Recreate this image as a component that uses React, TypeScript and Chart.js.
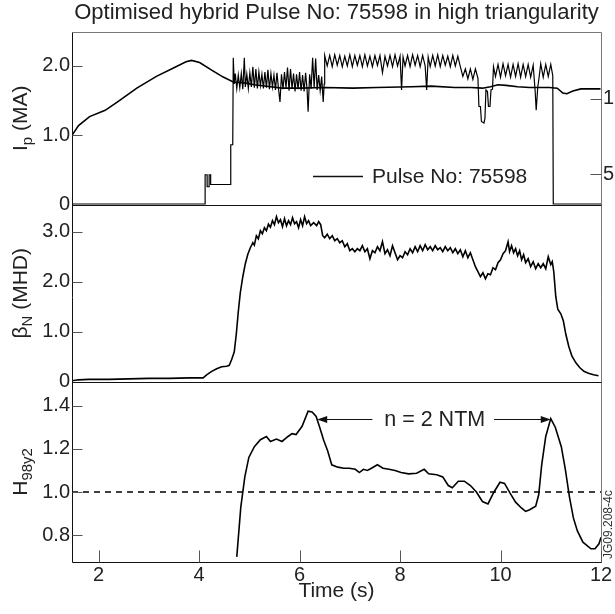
import { useEffect, useRef } from 'react';
import { Chart, registerables } from 'chart.js';

Chart.register(...registerables);

const FONT = '"Liberation Sans", Arial, Helvetica, sans-serif';

const TITLE = 'Optimised hybrid Pulse No: 75598 in high triangularity';
const LEGEND_LABEL = 'Pulse No: 75598';
const X_TITLE = 'Time (s)';
const NTM_LABEL = 'n = 2 NTM';
const FIG_CODE = 'JG09.208-4c';

const X_MIN = 1.47;
const X_MAX = 12.0;
const X_TICKS = [2, 4, 6, 8, 10, 12];
const IP_TICKS = [0, 1, 2];
const BETA_TICKS = [0, 1, 2, 3];
const H_TICKS = [0.8, 1.0, 1.2, 1.4];
const POWER_TICKS = [5, 15];
const H_REFERENCE = 1.0;

// NTM annotation (time, H value)
const NTM_LEVEL = 1.34;
const NTM_LEFT_ARROW = [7.45, 6.35];
const NTM_RIGHT_ARROW = [9.87, 11.0];
const NTM_TEXT_TIME = 8.69;

// Plasma current (MA)
const IP_TIME = [1.47, 1.6, 1.82, 2.13, 2.37, 2.76, 3.15, 3.54, 3.74, 3.85, 4.01, 4.25, 4.48, 4.68, 4.87, 5.1, 5.42, 5.65, 6.0, 6.51, 7.06, 7.53, 8.23, 8.62, 9.09, 9.41, 9.64, 9.8, 9.95, 10.11, 10.34, 10.58, 10.97, 11.13, 11.24, 11.32, 11.44, 11.6, 11.99];
const IP_MA = [1.0, 1.14, 1.27, 1.36, 1.48, 1.68, 1.85, 1.99, 2.06, 2.08, 2.05, 1.94, 1.84, 1.77, 1.76, 1.73, 1.70, 1.68, 1.68, 1.69, 1.68, 1.69, 1.70, 1.71, 1.69, 1.69, 1.68, 1.70, 1.73, 1.72, 1.70, 1.69, 1.69, 1.68, 1.61, 1.60, 1.64, 1.67, 1.67];

// Heating power (MW, right axis)
const POWER_TIME = [
  1.47, 4.12, 4.12, 4.16, 4.16, 4.20, 4.20, 4.23, 4.23, 4.63, 4.63, 4.67, 4.68, 4.70, 4.72, 4.75, 4.78, 4.81, 4.84, 4.87,
  4.90, 4.92, 4.95, 4.98, 5.01, 5.04, 5.07, 5.10, 5.13, 5.16, 5.19, 5.22, 5.25, 5.28, 5.31, 5.34, 5.37, 5.40, 5.43, 5.46,
  5.49, 5.52, 5.55, 5.58, 5.61, 5.64, 5.67, 5.70, 5.73, 5.76, 5.79, 5.82, 5.85, 5.88, 5.91, 5.94, 5.97, 6.00, 6.03, 6.06,
  6.09, 6.12, 6.15, 6.17, 6.20, 6.23, 6.26, 6.29, 6.32, 6.35, 6.38, 6.41, 6.44, 6.47, 6.49, 6.50,
  6.55, 6.60, 6.65, 6.70, 6.75, 6.80, 6.85, 6.90, 6.95, 7.00, 7.05, 7.10, 7.15, 7.20, 7.25, 7.30, 7.35, 7.40, 7.45, 7.50,
  7.55, 7.60, 7.65, 7.70, 7.75, 7.80, 7.85, 7.90, 7.95, 8.00, 8.03, 8.06, 8.10, 8.15, 8.20, 8.25, 8.30, 8.35, 8.40, 8.45,
  8.50, 8.53, 8.56, 8.60, 8.65, 8.70, 8.75, 8.80, 8.85, 8.90, 8.95, 9.00, 9.05, 9.10, 9.15, 9.20, 9.25,
  9.30, 9.35, 9.40, 9.45, 9.50, 9.55,
  9.57, 9.60, 9.62, 9.67, 9.69, 9.71, 9.74, 9.76, 9.79, 9.81, 9.84, 9.86,
  9.90, 9.95, 10.00, 10.05, 10.10, 10.15, 10.20, 10.25, 10.30, 10.35, 10.40, 10.45, 10.50, 10.55, 10.60, 10.65, 10.69, 10.71, 10.74, 10.77,
  10.80, 10.85, 10.90, 10.95, 11.00, 11.04, 11.05, 12.0,
];
const POWER_MW = [
  1.0, 1.0, 4.9, 4.9, 3.3, 3.3, 4.9, 4.9, 3.6, 3.6, 8.9, 8.9, 20.5, 17.0, 18.4, 16.4, 18.2, 16.5, 18.4, 16.3,
  20.5, 16.6, 18.3, 16.4, 18.5, 16.6, 19.3, 16.5, 19.0, 16.4, 18.6, 16.8, 18.3, 16.4, 18.6, 16.5, 18.9, 16.3, 18.4, 16.6,
  18.2, 16.2, 18.5, 16.4, 14.6, 18.3, 16.3, 18.6, 16.5, 19.2, 16.1, 19.0, 16.4, 18.4, 16.0, 18.3, 16.3, 18.6, 16.1, 18.2,
  16.0, 18.5, 16.2, 13.3, 18.3, 16.4, 20.5, 16.5, 20.4, 16.2, 18.2, 16.1, 18.0, 14.6, 17.0, 20.8,
  19.4, 20.8, 19.3, 20.9, 19.5, 20.8, 19.3, 20.7, 19.4, 20.9, 19.3, 20.8, 19.5, 20.8, 19.3, 20.9, 19.4, 20.7, 19.3, 20.8,
  19.5, 20.8, 18.5, 20.7, 19.4, 20.8, 19.3, 20.9, 19.4, 20.7, 16.2, 20.6, 19.4, 20.8, 19.3, 20.9, 19.5, 20.8, 19.3, 20.8,
  19.4, 16.2, 20.6, 19.3, 20.8, 19.4, 20.9, 19.3, 20.8, 19.5, 20.7, 19.3, 20.8, 19.4, 20.7, 19.3, 18.0,
  19.0, 17.7, 19.0, 17.6, 19.0, 17.8,
  14.0, 14.0, 12.0, 11.8, 12.4, 16.2, 16.0, 14.0, 14.0, 16.2, 16.3, 19.3,
  18.0, 19.6, 17.9, 19.7, 18.1, 19.6, 17.9, 19.6, 18.0, 19.7, 17.9, 19.6, 18.0, 19.6, 17.9, 19.5, 16.0, 13.5, 16.5, 18.0,
  19.7, 17.9, 19.6, 18.0, 19.6, 18.1, 1.0, 1.0,
];

// Normalised beta
const BETA_TIME = [
  1.47, 1.6, 1.8, 2.2, 2.6, 3.0, 3.4, 3.8, 4.08, 4.15, 4.25, 4.35, 4.45, 4.55, 4.60, 4.65, 4.70, 4.74, 4.78, 4.82,
  4.87, 4.92, 4.97, 5.02, 5.07, 5.10, 5.14, 5.18, 5.22, 5.26, 5.30, 5.34, 5.38, 5.42, 5.46, 5.50, 5.54, 5.58, 5.62, 5.66,
  5.70, 5.74, 5.78, 5.82, 5.86, 5.90, 5.94, 5.98, 6.02, 6.06, 6.10, 6.14, 6.18, 6.22, 6.28, 6.34, 6.38, 6.42, 6.46, 6.50,
  6.55, 6.60, 6.65, 6.70, 6.75, 6.80, 6.85, 6.90, 6.95, 7.00, 7.05, 7.10, 7.15, 7.20, 7.25, 7.30, 7.35, 7.40, 7.45, 7.50,
  7.55, 7.60, 7.65, 7.70, 7.75, 7.80, 7.85, 7.90, 7.95, 8.00, 8.05, 8.10, 8.15, 8.20, 8.25, 8.30, 8.35, 8.40, 8.45, 8.50,
  8.55, 8.60, 8.65, 8.70, 8.75, 8.80, 8.85, 8.90, 8.95, 9.00, 9.05, 9.10, 9.15, 9.20, 9.25, 9.30, 9.35, 9.40, 9.45, 9.50,
  9.55, 9.60, 9.65, 9.70, 9.75, 9.80, 9.85, 9.90, 9.95, 10.00, 10.05, 10.10, 10.15, 10.18, 10.22, 10.26, 10.30, 10.34, 10.38, 10.42,
  10.46, 10.50, 10.55, 10.60, 10.65, 10.70, 10.75, 10.80, 10.85, 10.90, 10.95, 11.00, 11.03, 11.06, 11.10, 11.14, 11.20, 11.25, 11.30, 11.36,
  11.42, 11.50, 11.58, 11.66, 11.75, 11.85, 11.95,
];
const BETA_N = [
  0.02, 0.04, 0.05, 0.05, 0.06, 0.07, 0.07, 0.08, 0.08, 0.14, 0.21, 0.26, 0.30, 0.31, 0.33, 0.45, 0.60, 0.95, 1.40, 1.78,
  2.10, 2.36, 2.55, 2.68, 2.78, 2.73, 2.92, 2.86, 3.02, 2.96, 3.08, 3.02, 3.15, 3.09, 3.22, 3.14, 3.30, 3.18, 3.24, 3.10,
  3.26, 3.12, 3.22, 3.14, 3.28, 3.16, 3.20, 3.08, 3.24, 3.12, 3.30, 3.16, 3.22, 3.12, 3.18, 3.12, 3.20, 3.14, 2.92, 2.88,
  2.95, 2.86, 2.92, 2.82, 2.86, 2.78, 2.82, 2.70, 2.76, 2.62, 2.66, 2.60, 2.66, 2.62, 2.72, 2.60, 2.66, 2.46, 2.62, 2.58,
  2.70, 2.62, 2.80, 2.56, 2.64, 2.52, 2.72, 2.58, 2.44, 2.52, 2.48, 2.60, 2.54, 2.66, 2.58, 2.70, 2.60, 2.72, 2.62, 2.74,
  2.64, 2.70, 2.62, 2.72, 2.64, 2.68, 2.60, 2.70, 2.62, 2.68, 2.58, 2.66, 2.56, 2.64, 2.50, 2.62, 2.48, 2.58, 2.44, 2.30,
  2.20, 2.10, 2.18, 2.06, 2.16, 2.14, 2.28, 2.24, 2.38, 2.44, 2.56, 2.62, 2.80, 2.60, 2.72, 2.58, 2.66, 2.52, 2.62, 2.44,
  2.54, 2.38, 2.46, 2.30, 2.40, 2.26, 2.36, 2.28, 2.36, 2.26, 2.50, 2.34, 2.40, 2.20, 1.70, 1.45, 1.36, 1.22, 0.95, 0.70,
  0.52, 0.38, 0.28, 0.21, 0.17, 0.14, 0.12,
];

// Confinement factor H98(y,2)
const H_TIME = [
  4.75, 4.83, 4.91, 4.99, 5.10, 5.22, 5.34, 5.42, 5.54, 5.65, 5.77, 5.85, 5.93, 6.05, 6.17, 6.25, 6.33, 6.40, 6.48, 6.56,
  6.64, 6.76, 6.88, 6.99, 7.11, 7.19, 7.27, 7.35, 7.43, 7.55, 7.66, 7.78, 7.90, 8.02, 8.17, 8.33, 8.48, 8.57, 8.73, 8.85,
  8.96, 9.04, 9.16, 9.28, 9.40, 9.52, 9.64, 9.75, 9.87, 9.99, 10.08, 10.19, 10.30, 10.42, 10.50, 10.58, 10.70, 10.76, 10.82, 10.90,
  11.00, 11.09, 11.21, 11.29, 11.37, 11.45, 11.53, 11.64, 11.80, 11.88, 11.96, 12.0,
];
const H98 = [
  0.70, 0.93, 1.07, 1.16, 1.21, 1.242, 1.257, 1.234, 1.245, 1.234, 1.257, 1.27, 1.266, 1.304, 1.374, 1.37, 1.35, 1.30, 1.24, 1.19,
  1.126, 1.115, 1.11, 1.11, 1.105, 1.09, 1.105, 1.10, 1.11, 1.126, 1.11, 1.105, 1.10, 1.09, 1.084, 1.087, 1.105, 1.084, 1.08, 1.07,
  1.03, 1.02, 1.05, 1.05, 1.03, 1.00, 0.956, 0.945, 1.00, 1.045, 1.04, 0.995, 0.953, 0.925, 0.91, 0.918, 0.934, 0.987, 1.127, 1.257,
  1.34, 1.30, 1.21, 1.105, 0.98, 0.88, 0.82, 0.768, 0.737, 0.737, 0.76, 0.79,
];

const toPoints = (ts: number[], vs: number[]) => ts.map((t, i) => ({ x: t, y: vs[i] }));

function drawArrow(ctx: CanvasRenderingContext2D, x1: number, x2: number, y: number) {
  const dir = Math.sign(x2 - x1);
  ctx.beginPath();
  ctx.moveTo(x1, y);
  ctx.lineTo(x2 - dir * 8, y);
  ctx.stroke();
  ctx.beginPath();
  ctx.moveTo(x2, y);
  ctx.lineTo(x2 - dir * 10, y - 3.5);
  ctx.lineTo(x2 - dir * 10, y + 3.5);
  ctx.closePath();
  ctx.fill();
}

function drawRotatedLabel(ctx: CanvasRenderingContext2D, x: number, cy: number, parts: { t: string; sub?: boolean }[]) {
  const big = `21px ${FONT}`;
  const small = `15px ${FONT}`;
  let total = 0;
  for (const p of parts) {
    ctx.font = p.sub ? small : big;
    total += ctx.measureText(p.t).width;
  }
  ctx.save();
  ctx.translate(x, cy);
  ctx.rotate(-Math.PI / 2);
  ctx.textAlign = 'left';
  ctx.textBaseline = 'alphabetic';
  let pos = -total / 2;
  for (const p of parts) {
    ctx.font = p.sub ? small : big;
    ctx.fillText(p.t, pos, p.sub ? 5 : 0);
    pos += ctx.measureText(p.t).width;
  }
  ctx.restore();
}

const decorPlugin = {
  id: 'decor',
  afterDatasetsDraw(chart: any) {
    const ctx: CanvasRenderingContext2D = chart.ctx;
    const a = chart.chartArea;
    const sx = chart.scales.x;
    const sIp = chart.scales.yIp;
    const sB = chart.scales.yBeta;
    const sH = chart.scales.yH;
    const sP = chart.scales.yPow;
    const L = Math.round(a.left) + 0.5;
    const R = Math.round(a.right) + 0.5;
    const T = Math.round(a.top) + 0.5;
    const B = Math.round(a.bottom) + 0.5;
    ctx.save();
    ctx.lineWidth = 1;
    // frame
    ctx.strokeStyle = '#777';
    ctx.beginPath();
    ctx.moveTo(L, T); ctx.lineTo(R, T); ctx.lineTo(R, B);
    ctx.stroke();
    ctx.strokeStyle = '#111';
    ctx.beginPath();
    ctx.moveTo(L, T); ctx.lineTo(L, B); ctx.lineTo(R, B);
    const s1 = Math.round(sIp.bottom) + 0.5;
    const s2 = Math.round(sB.bottom) + 0.5;
    ctx.moveTo(L, s1); ctx.lineTo(R, s1);
    ctx.moveTo(L, s2); ctx.lineTo(R, s2);
    ctx.stroke();

    // inner ticks
    ctx.strokeStyle = '#555';
    ctx.beginPath();
    const leftTicks: [any, number[]][] = [[sIp, IP_TICKS], [sB, BETA_TICKS], [sH, H_TICKS]];
    for (const [s, vals] of leftTicks) {
      for (const v of vals) {
        const y = Math.round(s.getPixelForValue(v)) + 0.5;
        if (y <= s.top + 1 || y >= s.bottom - 1) continue;
        ctx.moveTo(L, y); ctx.lineTo(L + 10, y);
      }
    }
    for (const v of X_TICKS) {
      const x = Math.round(sx.getPixelForValue(v)) + 0.5;
      ctx.moveTo(x, B); ctx.lineTo(x, B - 12);
    }
    for (const v of POWER_TICKS) {
      const y = Math.round(sP.getPixelForValue(v)) + 0.5;
      ctx.moveTo(R - 11, y); ctx.lineTo(R, y);
    }
    ctx.stroke();

    ctx.fillStyle = '#222';
    ctx.strokeStyle = '#111';
    // title
    ctx.font = `22px ${FONT}`;
    ctx.textAlign = 'center';
    ctx.textBaseline = 'middle';
    ctx.fillText(TITLE, (a.left + a.right) / 2, 13);
    // x title
    ctx.font = `21px ${FONT}`;
    ctx.fillText(X_TITLE, (a.left + a.right) / 2, 591);

    // axis titles
    drawRotatedLabel(ctx, 27, (sIp.top + sIp.bottom) / 2, [{ t: 'I' }, { t: 'p', sub: true }, { t: ' (MA)' }]);
    drawRotatedLabel(ctx, 27, (sB.top + sB.bottom) / 2, [{ t: 'β' }, { t: 'N', sub: true }, { t: ' (MHD)' }]);
    drawRotatedLabel(ctx, 27, (sH.top + sH.bottom) / 2, [{ t: 'H' }, { t: '98y2', sub: true }]);

    // legend
    const ly = 176.5;
    ctx.lineWidth = 1.5;
    ctx.beginPath();
    ctx.moveTo(313, ly); ctx.lineTo(363, ly);
    ctx.stroke();
    ctx.font = `21px ${FONT}`;
    ctx.textAlign = 'left';
    ctx.fillText(LEGEND_LABEL, 372, ly + 1);

    // NTM annotation
    const ny = Math.round(sH.getPixelForValue(NTM_LEVEL)) + 0.5;
    ctx.lineWidth = 1;
    ctx.fillStyle = '#111';
    drawArrow(ctx, sx.getPixelForValue(NTM_LEFT_ARROW[0]), sx.getPixelForValue(NTM_LEFT_ARROW[1]), ny);
    drawArrow(ctx, sx.getPixelForValue(NTM_RIGHT_ARROW[0]), sx.getPixelForValue(NTM_RIGHT_ARROW[1]), ny);
    ctx.fillStyle = '#222';
    ctx.textAlign = 'center';
    ctx.font = `21.5px ${FONT}`;
    ctx.fillText(NTM_LABEL, sx.getPixelForValue(NTM_TEXT_TIME), ny + 1);

    // figure code
    ctx.save();
    ctx.translate(612, 559);
    ctx.rotate(-Math.PI / 2);
    ctx.font = `12px ${FONT}`;
    ctx.textAlign = 'left';
    ctx.textBaseline = 'alphabetic';
    ctx.fillStyle = '#333';
    ctx.fillText(FIG_CODE, 0, 0);
    ctx.restore();

    ctx.restore();
  },
};

const tickFont = { family: FONT, size: 20 };
const fmt = (v: number) => (v === 0 ? '0' : v.toFixed(1));
const noGrid = { display: false, drawTicks: false, tickLength: 0 };

export default function App() {
  const ref = useRef<HTMLCanvasElement | null>(null);
  useEffect(() => {
    if (!ref.current) return;
    const line = (data: any[], yAxisID: string, extra: any = {}) => ({
      data,
      yAxisID,
      borderColor: '#000',
      backgroundColor: '#000',
      borderWidth: 1.5,
      pointRadius: 0,
      tension: 0,
      ...extra,
    });
    const chart = new Chart(ref.current, {
      type: 'line',
      data: {
        datasets: [
          line(toPoints(IP_TIME, IP_MA), 'yIp', { borderWidth: 1.6 }),
          line(toPoints(POWER_TIME, POWER_MW), 'yPow', { borderWidth: 1.2 }),
          line(toPoints(BETA_TIME, BETA_N), 'yBeta', { borderWidth: 1.6 }),
          line(toPoints(H_TIME, H98), 'yH', { borderWidth: 1.6 }),
          line([{ x: X_MIN, y: H_REFERENCE }, { x: X_MAX, y: H_REFERENCE }], 'yH', { borderWidth: 1.6, borderDash: [6, 5] }),
        ],
      },
      options: {
        animation: false,
        responsive: false,
        maintainAspectRatio: false,
        layout: { padding: { top: 32, left: 0, right: 0, bottom: 0 } },
        plugins: { legend: { display: false }, title: { display: false }, tooltip: { enabled: false } },
        scales: {
          x: {
            type: 'linear',
            position: 'bottom',
            min: X_MIN,
            max: X_MAX,
            grid: noGrid,
            border: { display: false },
            afterBuildTicks: (s: any) => { s.ticks = X_TICKS.map((v) => ({ value: v })); },
            afterFit: (s: any) => { s.height = 52; },
            ticks: { font: tickFont, color: '#222', padding: 1, maxRotation: 0, autoSkip: false, callback: (v: any) => String(v) },
          },
          yH: {
            type: 'linear',
            position: 'left',
            stack: 'panels',
            stackWeight: 180,
            min: 0.676,
            max: 1.51,
            grid: noGrid,
            border: { display: false },
            afterBuildTicks: (s: any) => { s.ticks = H_TICKS.map((v) => ({ value: v })); },
            afterFit: (s: any) => { s.width = 72; },
            ticks: { font: tickFont, color: '#222', padding: 2, callback: (v: any) => fmt(v) },
          },
          yBeta: {
            type: 'linear',
            position: 'left',
            stack: 'panels',
            stackWeight: 177,
            min: 0,
            max: 3.54,
            grid: noGrid,
            border: { display: false },
            afterBuildTicks: (s: any) => { s.ticks = BETA_TICKS.map((v) => ({ value: v })); },
            afterFit: (s: any) => { s.width = 72; },
            ticks: { font: tickFont, color: '#222', padding: 2, callback: (v: any) => fmt(v) },
          },
          yIp: {
            type: 'linear',
            position: 'left',
            stack: 'panels',
            stackWeight: 172.5,
            min: 0,
            max: 2.49,
            grid: noGrid,
            border: { display: false },
            afterBuildTicks: (s: any) => { s.ticks = IP_TICKS.map((v) => ({ value: v })); },
            afterFit: (s: any) => { s.width = 72; },
            ticks: { font: tickFont, color: '#222', padding: 2, callback: (v: any) => fmt(v) },
          },
          yPow: {
            type: 'linear',
            position: 'right',
            min: -46.73,
            max: 23.93,
            grid: noGrid,
            border: { display: false },
            afterBuildTicks: (s: any) => { s.ticks = POWER_TICKS.map((v) => ({ value: v })); },
            afterFit: (s: any) => { s.width = 39; },
            ticks: { font: tickFont, color: '#222', padding: 2, callback: (v: any) => String(v) },
          },
        },
      },
      plugins: [decorPlugin],
    } as any);
    return () => chart.destroy();
  }, []);
  return (
    <div style={{ position: 'fixed', left: 0, top: 0, width: 615, height: 614, overflow: 'hidden', background: '#fff' }}>
      <canvas ref={ref} width={640} height={614} style={{ display: 'block', width: 640, height: 614 }} />
    </div>
  );
}
